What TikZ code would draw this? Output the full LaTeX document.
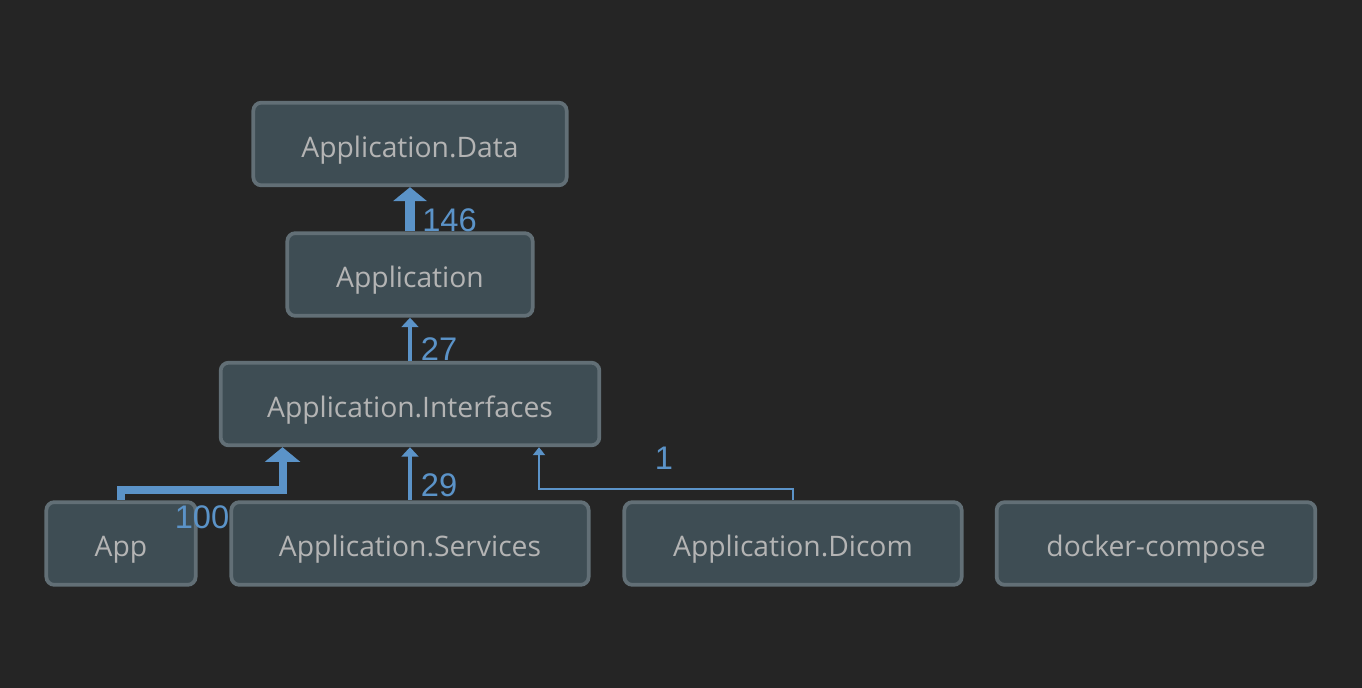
\documentclass[tikz,border=0pt]{standalone}
\usepackage{fontspec}
\setmainfont{Open Sans}
\newfontfamily\numfont{Liberation Sans}
\usetikzlibrary{arrows.meta}

\definecolor{bgcol}{HTML}{252525}
\definecolor{boxfill}{HTML}{3E4D54}
\definecolor{boxline}{HTML}{626F76}
\definecolor{boxtext}{HTML}{B4B4B4}
\definecolor{deplink}{HTML}{5B93C8}

\begin{document}
\begin{tikzpicture}[
  x=0.75pt, y=-0.75pt,
  project/.style={draw=boxline, fill=boxfill, line width=2.8pt, rounded corners=6pt,
    text=boxtext, font=\fontsize{21.2}{25}\selectfont, text height=19.8pt, text depth=0pt,
    minimum height=62pt, inner sep=0pt},
  dep/.style={draw=deplink, line width=#1},
  count/.style={text=deplink, font=\numfont\fontsize{24.5}{28}\selectfont, inner sep=0pt},
]

\fill[bgcol] (0,0) rectangle (1362,688);

% projects
\node (data)   [project, minimum width=235pt] at (410,144)   {Application.Data};
\node (appl)   [project, minimum width=184pt] at (410,274.5) {Application};
\node (ifaces) [project, minimum width=284pt] at (410,404)   {Application.Interfaces};
\node (app)    [project, minimum width=112pt] at (121,543.5) {App};
\node (svc)    [project, minimum width=268pt] at (410,543.5) {Application.Services};
\node (dicom)  [project, minimum width=253pt] at (793,543.5) {Application.Dicom};
\node (docker) [project, minimum width=239pt] at (1156,543.5) {docker-compose};

% dependencies
\draw[dep=7.5pt, -{Triangle[width=25pt, length=10.5pt]}]
  (appl.north) -- (data.south);
\draw[dep=3.5pt, -{Triangle[width=12.5pt, length=7pt]}]
  (ifaces.north) -- (appl.north |- appl.south);
\draw[dep=6pt, -{Triangle[width=26pt, length=11pt]}]
  (app.north) -- ++(0,-10) -| ([xshift=-95.6pt]ifaces.south);
\draw[dep=3.5pt, -{Triangle[width=12.5pt, length=7pt]}]
  (svc.north) -- (ifaces.south);
\draw[dep=1.5pt, -{Triangle[width=9pt, length=6pt]}]
  (dicom.north) -- ++(0,-11) -| ([xshift=96.75pt]ifaces.south);

% counts
\node (n146) [count] at (449.5,220) {146};
\node (n27)  [count] at (439,349)   {27};
\node (n100) [count] at (202,517.5) {100};
\node (n29)  [count] at (439,485)   {29};
\node (n1)   [count] at (664,458.5) {1};

\end{tikzpicture}
\end{document}
